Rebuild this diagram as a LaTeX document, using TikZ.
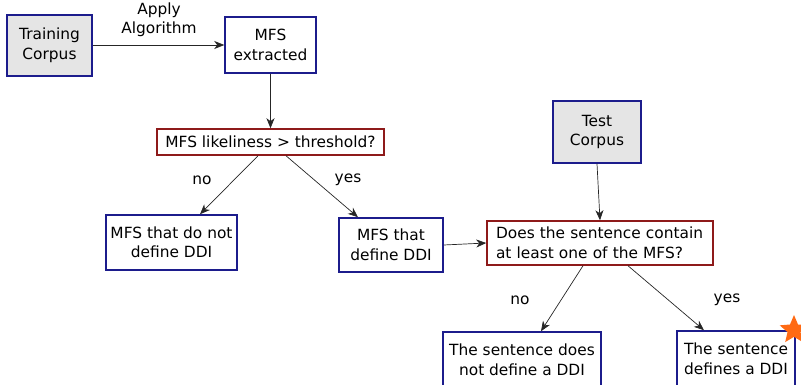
\documentclass[tikz,border=0pt]{standalone}
\usepackage{fontspec}
\setmainfont{DejaVu Sans}
\usetikzlibrary{arrows.meta,shapes.geometric}
\definecolor{boxblue}{HTML}{1C1C8C}
\definecolor{boxred}{HTML}{8E1A1A}
\definecolor{corpusgray}{HTML}{E5E5E5}
\definecolor{starorange}{HTML}{FF6A13}
\tikzset{
  x=1pt, y=-1pt,
  every node/.style={font=\fontsize{15.4}{19.5}\selectfont, inner sep=0pt},
  bluebox/.style={draw=boxblue, line width=1.5pt, fill=white, rectangle, align=center},
  corpusbox/.style={bluebox, fill=corpusgray},
  redbox/.style={draw=boxred, line width=1.5pt, fill=white, rectangle, align=center},
  conn/.style={draw=black!85, line width=0.7pt, -{Stealth[length=10pt,width=8pt,inset=3pt]}},
  lbl/.style={align=center}
}
\begin{document}
\begin{tikzpicture}
\useasboundingbox (0,0) rectangle (801,385);
\begin{scope}
\clip (0,0) rectangle (801,385);
\node[corpusbox, minimum width=85pt, minimum height=61pt] (train) at (49.5,45.5) {Training\\Corpus};
\node[bluebox, minimum width=91pt, minimum height=56pt] (mfs) at (270.5,45) {MFS\\extracted};
\node[redbox, minimum width=227pt, minimum height=26pt] (thr) at (270.5,142) {MFS likeliness > threshold?};
\node[bluebox, minimum width=131pt, minimum height=55pt] (notdef) at (171.5,242.5) {MFS that do not\\define DDI};
\node[bluebox, minimum width=104pt, minimum height=54pt] (def) at (391,245) {MFS that\\define DDI};
\node[corpusbox, minimum width=88pt, minimum height=62pt] (test) at (597,132) {Test\\Corpus};
\node[redbox, minimum width=226pt, minimum height=44pt, align=left, text width=208pt] (does) at (600,243) {Does the sentence contain\\at least one of the MFS?};
\node[bluebox, minimum width=158pt, minimum height=56pt] (sno) at (522,360) {The sentence does\\not define a DDI};
\node[bluebox, minimum width=118pt, minimum height=56pt] (syes) at (736,359) {The sentence\\defines a DDI};
\node[star, star points=5, star point ratio=2.2, fill=starorange, minimum size=30pt, inner sep=0pt] (st) at (794,330) {};

\draw[conn] (train.east |- 0,45) -- (mfs.west |- 0,45);
\draw[conn] (mfs.south) -- (thr.north);
\draw[conn] ([xshift=-12.5pt]thr.south) -- ([xshift=28.5pt]notdef.north);
\draw[conn] ([xshift=15.5pt]thr.south) -- ([xshift=-33pt]def.north);
\draw[conn] (def.east) -- (does.west);
\draw[conn] (test.south) -- (does.north);
\draw[conn] ([xshift=-17pt]does.south) -- ([xshift=19pt]sno.north);
\draw[conn] ([xshift=28pt]does.south) -- ([xshift=-32pt]syes.north);

\node[lbl] (apply) at (159,20) {Apply\\Algorithm};
\node (no1) at (202,180) {no};
\node (yes1) at (348,180) {yes};
\node (no2) at (520,300) {no};
\node (yes2) at (727,300) {yes};
\end{scope}
\end{tikzpicture}
\end{document}
